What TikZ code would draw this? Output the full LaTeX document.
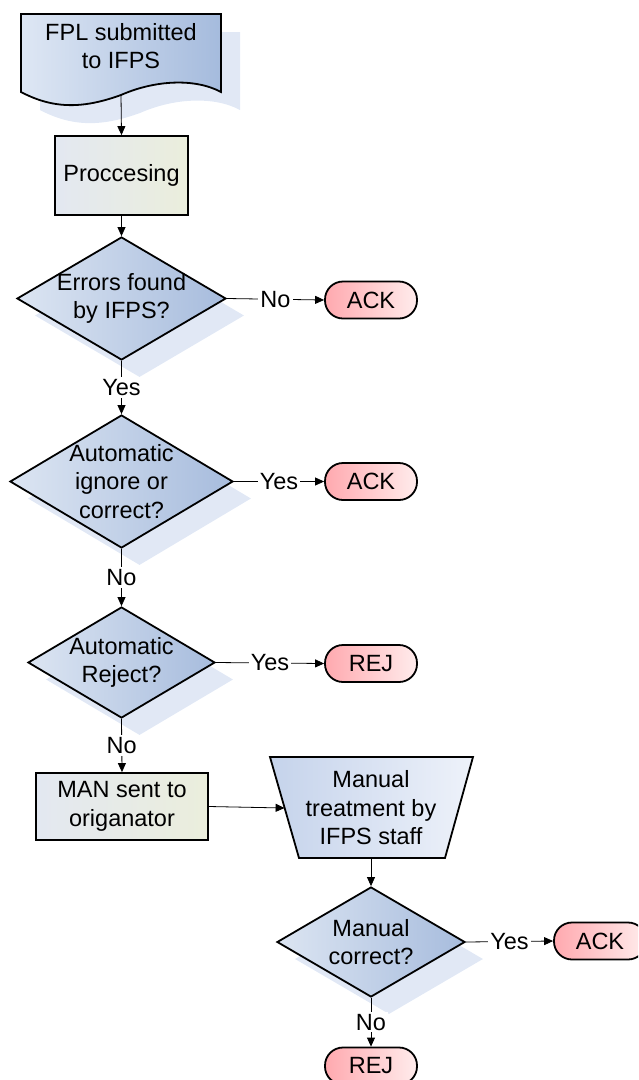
\documentclass[tikz,border=0pt]{standalone}
\usepackage{fontspec}
\setmainfont{Liberation Sans}
\usetikzlibrary{arrows.meta,shapes.geometric}

\definecolor{docL}{HTML}{DEE7F4}
\definecolor{docR}{HTML}{A5BBDD}
\definecolor{decL}{HTML}{DCE5F2}
\definecolor{decR}{HTML}{A7BCDD}
\definecolor{procL}{HTML}{E3E8F1}
\definecolor{procR}{HTML}{EBEEDC}
\definecolor{termL}{HTML}{FFA9AF}
\definecolor{termR}{HTML}{FFECEC}
\definecolor{trapL}{HTML}{C5D3EB}
\definecolor{trapR}{HTML}{EEF2FA}
\definecolor{shadowblue}{HTML}{AFC2E6}

\begin{document}
\begin{tikzpicture}[x=1pt,y=-1pt,
  txt/.style={font=\fontsize{23.5}{28.5}\selectfont, align=center, inner sep=0pt},
  lbl/.style={txt, fill=white, inner sep=2pt},
  arr/.style={draw=black, line width=0.8pt, -{Triangle[length=9pt,width=8pt]}},
  outline/.style={draw=black, line width=1.8pt},
  decision/.style={outline, diamond, inner sep=0pt, left color=decL, right color=decR},
  decshade/.style={diamond, inner sep=0pt, fill=shadowblue, draw=none, opacity=0.38,
    xshift=18pt, yshift=-17pt},
  shade/.style={fill=shadowblue, draw=none, opacity=0.38},
  procbox/.style={outline, rectangle, txt, left color=procL, right color=procR},
  term/.style={outline, rectangle, rounded corners=18pt, minimum width=92pt,
    minimum height=37pt, txt, left color=termL, right color=termR}
]
\clip (0,0) rectangle (638,1080);

% document shape: FPL submitted
\path[shade, shift={(19,18)}] (21,14) -- (221,14) -- (221,92)
  .. controls (195,78) and (155,80) .. (121,95)
  .. controls (85,108) and (55,110) .. (21,92) -- cycle;
\path[outline, left color=docL, right color=docR] (21,14) -- (221,14) -- (221,92)
  .. controls (195,78) and (155,80) .. (121,95)
  .. controls (85,108) and (55,110) .. (21,92) -- cycle;
\node[txt] (doc) at (121,46) {FPL submitted\\to IFPS};
\coordinate (docb) at (121,95);

% processing step
\node[procbox, minimum width=133pt, minimum height=79pt] (proc) at (121.5,175.5) {Proccesing};

% decisions (shadow, shape, text)
\node[decshade, minimum width=209pt, minimum height=123pt] (s1) at (121.5,298.5) {};
\node[decision, minimum width=209pt, minimum height=123pt] (d1) at (121.5,298.5) {};
\node[txt] (t1) at (d1) {Errors found\\by IFPS?};

\node[decshade, minimum width=223pt, minimum height=133pt] (s2) at (121.5,481.5) {};
\node[decision, minimum width=223pt, minimum height=133pt] (d2) at (121.5,481.5) {};
\node[txt] (t2) at (d2) {Automatic\\ignore or\\correct?};

\node[decshade, minimum width=187pt, minimum height=111pt] (s3) at (121.5,662.5) {};
\node[decision, minimum width=187pt, minimum height=111pt] (d3) at (121.5,662.5) {};
\node[txt] (t3) at (d3) {Automatic\\Reject?};

\node[decshade, minimum width=188pt, minimum height=110pt] (s4) at (371,942) {};
\node[decision, minimum width=188pt, minimum height=110pt] (d4) at (371,942) {};
\node[txt] (t4) at (d4) {Manual\\correct?};

% MAN box
\node[procbox, minimum width=172pt, minimum height=67pt] (man) at (122,806.5) {MAN sent to\\origanator};

% manual treatment (trapezoid)
\coordinate (tpA) at (270,757);
\coordinate (tpB) at (473,757);
\coordinate (tpC) at (445,858);
\coordinate (tpD) at (299,858);
\path[outline, left color=trapL, right color=trapR] (tpA) -- (tpB) -- (tpC) -- (tpD) -- cycle;
\node[txt] (trap) at (371,808) {Manual\\treatment by\\IFPS staff};
\coordinate (trapW) at (284.6,808);
\coordinate (trapS) at (371,858);

% terminators
\node[term] (ack1) at (371,300) {ACK};
\node[term] (ack2) at (371,481.5) {ACK};
\node[term] (rej1) at (371,663.5) {REJ};
\node[term] (ack3) at (600,941) {ACK};
\node[term] (rej2) at (371,1066) {REJ};

% connectors
\draw[arr] (docb) -- (proc.north);
\draw[arr] (proc.south) -- (d1.north);
\draw[arr] (d1.east) -- node[lbl] {No} (ack1.west);
\draw[arr] (d1.south) -- node[lbl] {Yes} (d2.north);
\draw[arr] (d2.east) -- node[lbl] {Yes} (ack2.west);
\draw[arr] (d2.south) -- node[lbl] {No} (d3.north);
\draw[arr] (d3.east) -- node[lbl] {Yes} (rej1.west);
\draw[arr] (d3.south) -- node[lbl] {No} (man.north);
\draw[arr] (man.east) -- (trapW);
\draw[arr] (trapS) -- (d4.north);
\draw[arr] (d4.east) -- node[lbl] {Yes} (ack3.west);
\draw[arr] (d4.south) -- node[lbl] {No} (rej2.north);
\end{tikzpicture}
\end{document}
